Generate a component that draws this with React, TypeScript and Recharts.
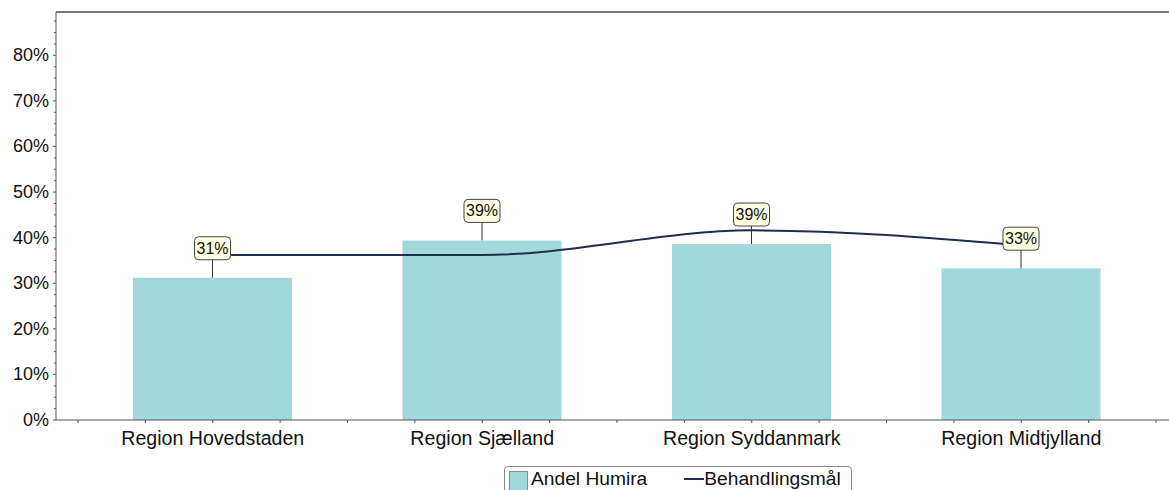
import React from 'react';
import {
  ComposedChart, Bar, Line, XAxis, YAxis, LabelList, ReferenceLine
} from 'recharts';

const regions = ['Region Hovedstaden', 'Region Sjælland', 'Region Syddanmark', 'Region Midtjylland'];
const andelHumira = [31.2, 39.4, 38.6, 33.3];
const behandlingsmaal = [36.2, 36.2, 41.6, 38.3];
const yTicks = [0, 2.5, 5, 7.5, 10, 12.5, 15, 17.5, 20, 22.5, 25, 27.5, 30, 32.5, 35, 37.5, 40, 42.5, 45, 47.5, 50, 52.5, 55, 57.5, 60, 62.5, 65, 67.5, 70, 72.5, 75, 77.5, 80, 82.5, 85, 87.5];
const yMax = 89.5;

const data = regions.map((region, i) => ({
  region,
  humira: andelHumira[i],
  maal: behandlingsmaal[i],
}));

const FONT = 'Arial, "Liberation Sans", sans-serif';
const BAR_COLOR = '#a0d8dc';
const LINE_COLOR = '#1f2d4f';
const BAND = 269.5;

const YTick = (props: any) => {
  const { x, y, payload } = props;
  const major = payload.value % 10 === 0;
  return (
    <g>
      <line x1={x - (major ? 3 : 2)} x2={x} y1={y} y2={y} stroke="#555" />
      {major && payload.value <= 80 && (
        <text x={x - 7} y={y + 6} textAnchor="end" fontSize={18} fontFamily={FONT} fill="#111">
          {payload.value}%
        </text>
      )}
    </g>
  );
};

const XTick = (props: any) => {
  const { x, y, payload, index } = props;
  const offsets = index === regions.length - 1 ? [-2, -1, 0, 1, 2] : [-2, -1, 0, 1];
  return (
    <g>
      {offsets.map((k) => (
        <line key={k} x1={x + (k * BAND) / 4} x2={x + (k * BAND) / 4} y1={y} y2={y + 3} stroke="#555" />
      ))}
      <text x={x} y={y + 25} textAnchor="middle" fontSize={19.6} fontFamily={FONT} fill="#111">
        {payload.value}
      </text>
    </g>
  );
};

const ValueLabel = (props: any) => {
  const { x, y, width, value } = props;
  const cx = x + width / 2;
  return (
    <g>
      <line x1={cx} x2={cx} y1={y} y2={y - 18} stroke="#333" />
      <rect x={cx - 18} y={y - 41} width={36} height={23} rx={4} fill="#ffffe1" stroke="#444" />
      <text x={cx} y={y - 24} textAnchor="middle" fontSize={16} fontFamily={FONT} fill="#111">
        {Math.round(value)}%
      </text>
    </g>
  );
};

const LegendBox = () => (
  <div
    style={{
      position: 'absolute', left: 504, top: 466,
      display: 'flex', alignItems: 'flex-start', height: 30, width: 348,
      border: '1px solid #888', borderRadius: 4, fontFamily: FONT, fontSize: 19.2,
      lineHeight: '22px', color: '#111', boxSizing: 'border-box', paddingLeft: 4, paddingTop: 1,
    }}
  >
    <span style={{ width: 17, height: 20, marginTop: 3, background: BAR_COLOR, border: '1px solid #888', display: 'inline-block', marginRight: 3 }} />
    <span>Andel Humira</span>
    <span style={{ width: 20, height: 2, marginTop: 10, background: LINE_COLOR, display: 'inline-block', marginLeft: 37 }} />
    <span>Behandlingsmål</span>
  </div>
);

export default function App() {
  return (
    <div style={{ position: 'fixed', left: 0, top: 0, width: 1169, height: 490, overflow: 'hidden', background: '#fff' }}>
      <ComposedChart width={1178} height={490} data={data} margin={{ top: 12, right: 0, left: 0, bottom: 0 }}>
        <XAxis
          dataKey="region"
          height={70}
          padding={{ left: 22, right: 22 }}
          axisLine={{ stroke: '#555' }}
          tickLine={false}
          tickSize={0}
          tickMargin={0}
          tick={<XTick />}
          interval={0}
        />
        <YAxis
          width={56}
          domain={[0, yMax]}
          ticks={yTicks}
          axisLine={{ stroke: '#555' }}
          tickLine={false}
          tickSize={0}
          tickMargin={0}
          tick={<YTick />}
          interval={0}
        />
        <ReferenceLine y={yMax} stroke="#777" strokeWidth={2} />
        <Bar dataKey="humira" name="Andel Humira" fill={BAR_COLOR} barSize={159} isAnimationActive={false}>
          <LabelList dataKey="humira" content={<ValueLabel />} />
        </Bar>
        <Line
          type="monotone"
          dataKey="maal"
          name="Behandlingsmål"
          stroke={LINE_COLOR}
          strokeWidth={2}
          dot={false}
          activeDot={false}
          isAnimationActive={false}
        />
      </ComposedChart>
      <LegendBox />
    </div>
  );
}
